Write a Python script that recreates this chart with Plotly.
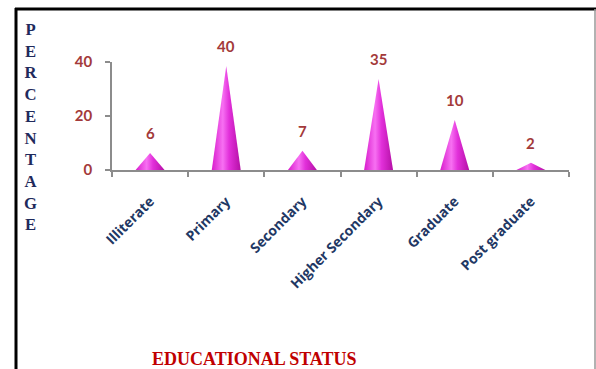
import plotly.graph_objects as go

categories = ["Illiterate", "Primary", "Secondary", "Higher Secondary", "Graduate", "Post graduate"]
cone_heights = [6.3, 38.5, 7.1, 33.7, 18.5, 2.7]
value_labels = ["6", "40", "7", "35", "10", "2"]
y_ticks = [0, 20, 40]

W, H = 596, 369
ML, MR, MT, MB = 112, 27, 62, 199
pw = W - ML - MR
ph = H - MT - MB

def px_x(p):
    return (p - ML) / pw

def px_y(p):
    return (H - MB - p) / ph

half_w = 0.19
fig = go.Figure()
for i, (cat, h) in enumerate(zip(categories, cone_heights)):
    fig.add_trace(go.Scatter(
        x=[i - half_w, i, i + half_w, i - half_w],
        y=[0, h, 0, 0],
        mode="lines",
        fill="toself",
        line=dict(width=0, color="#D21BC8"),
        fillgradient=dict(
            type="horizontal",
            colorscale=[[0, "#D81CCC"], [0.38, "#F770F2"], [0.6, "#E230DA"], [1, "#B510A6"]],
        ),
        hoverinfo="skip",
        showlegend=False,
        name=cat,
    ))

for i, (h, lab) in enumerate(zip(cone_heights, value_labels)):
    fig.add_annotation(
        x=i, y=h, text=lab, showarrow=False, yshift=20,
        font=dict(family="Lato", size=15, color="#A33A3A", weight="bold"),
        xref="x", yref="y",
    )

# y-axis title as stacked letters
fig.add_annotation(
    x=px_x(30), y=px_y(127), xref="paper", yref="paper",
    text="<br>".join(list("PERCENTAGE")), showarrow=False,
    font=dict(family="Liberation Serif", size=16.7, color="#1F2A5C", weight="bold"),
    xanchor="center", yanchor="middle", align="center",
)
# x-axis title
fig.add_annotation(
    x=px_x(254), y=px_y(359), xref="paper", yref="paper",
    text="EDUCATIONAL STATUS", showarrow=False,
    font=dict(family="Liberation Serif", size=18, color="#C00000", weight="bold"),
    xanchor="center", yanchor="middle",
)

# frame
fig.add_shape(type="line", xref="paper", yref="paper",
              x0=px_x(15), x1=px_x(596), y0=px_y(9), y1=px_y(9),
              line=dict(color="black", width=3))
fig.add_shape(type="line", xref="paper", yref="paper",
              x0=px_x(16), x1=px_x(16), y0=px_y(8), y1=px_y(372),
              line=dict(color="black", width=3))
fig.add_shape(type="line", xref="paper", yref="paper",
              x0=px_x(595), x1=px_x(595), y0=px_y(9), y1=px_y(372),
              line=dict(color="#999999", width=1.5))

fig.update_layout(
    width=W, height=H,
    margin=dict(l=ML, r=MR, t=MT, b=MB),
    paper_bgcolor="white", plot_bgcolor="white",
    showlegend=False,
)
fig.update_xaxes(
    range=[-0.5, len(categories) - 0.5],
    tickvals=list(range(len(categories))),
    ticktext=categories,
    tickangle=-45,
    ticks="",
    ticklabelstandoff=16,
    tickfont=dict(family="Open Sans", size=14, color="#1F3864", weight="bold"),
    showline=True, linecolor="#8C8C8C", linewidth=1.5,
    showgrid=False, zeroline=False,
    minor=dict(tickvals=[i - 0.5 for i in range(len(categories) + 1)],
               ticks="outside", ticklen=5, tickcolor="#8C8C8C", tickwidth=1.5, showgrid=False),
)
fig.update_yaxes(
    range=[0, 40],
    tickvals=y_ticks,
    ticks="outside", ticklen=5, tickcolor="#8C8C8C", tickwidth=1.5,
    ticklabelstandoff=10,
    tickfont=dict(family="Lato", size=15, color="#A33A3A", weight="bold"),
    showline=True, linecolor="#8C8C8C", linewidth=1.5,
    showgrid=False, zeroline=False,
)

fig.write_html("out.html")
